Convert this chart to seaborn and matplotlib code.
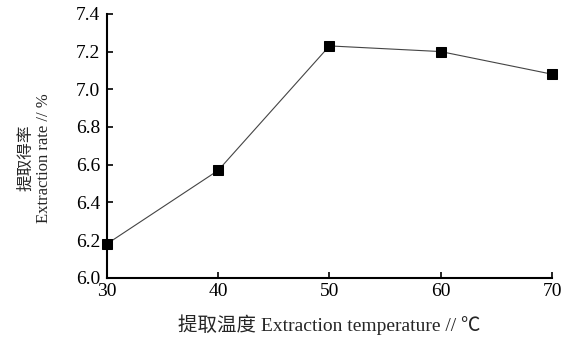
import matplotlib.pyplot as plt
import seaborn as sns
import pandas as pd

# 数据
temperature = [30, 40, 50, 60, 70]
extraction_rate = [6.18, 6.57, 7.23, 7.20, 7.08]
y_ticks = [6.0, 6.2, 6.4, 6.6, 6.8, 7.0, 7.2, 7.4]
x_ticks = [30, 40, 50, 60, 70]

df = pd.DataFrame({"temp": temperature, "rate": extraction_rate})

sns.set_style("ticks")
plt.rcParams["font.family"] = ["Liberation Serif", "Noto Sans CJK SC", "DejaVu Sans"]

fig = plt.figure(figsize=(5.75, 3.38), dpi=100)
ax = fig.add_axes([0.186, 0.178, 0.774, 0.781])

sns.lineplot(
    data=df, x="temp", y="rate", ax=ax,
    color="#444444", linewidth=0.8,
    marker="s", markersize=6.5, markerfacecolor="black", markeredgecolor="black",
    clip_on=False, zorder=5,
)

ax.set_xlim(30, 70)
ax.set_ylim(6.0, 7.4)
ax.set_xticks(x_ticks)
ax.set_yticks(y_ticks)
ax.set_yticklabels([f"{v:.1f}" for v in y_ticks])
ax.tick_params(direction="in", length=4, width=1.2, labelsize=14, colors="black")
ax.tick_params(axis="x", pad=4)
ax.tick_params(axis="y", pad=5)

for s in ["top", "right"]:
    ax.spines[s].set_visible(False)
for s in ["left", "bottom"]:
    ax.spines[s].set_linewidth(1.5)
    ax.spines[s].set_color("black")

ax.set_xlabel("提取温度 Extraction temperature // ℃", fontsize=14, labelpad=10)
ax.set_ylabel("提取得率\nExtraction rate // %", fontsize=12, linespacing=1.15)
ax.yaxis.set_label_coords(-0.124, 0.455)

plt.savefig("out.png", dpi=100)
plt.close()
